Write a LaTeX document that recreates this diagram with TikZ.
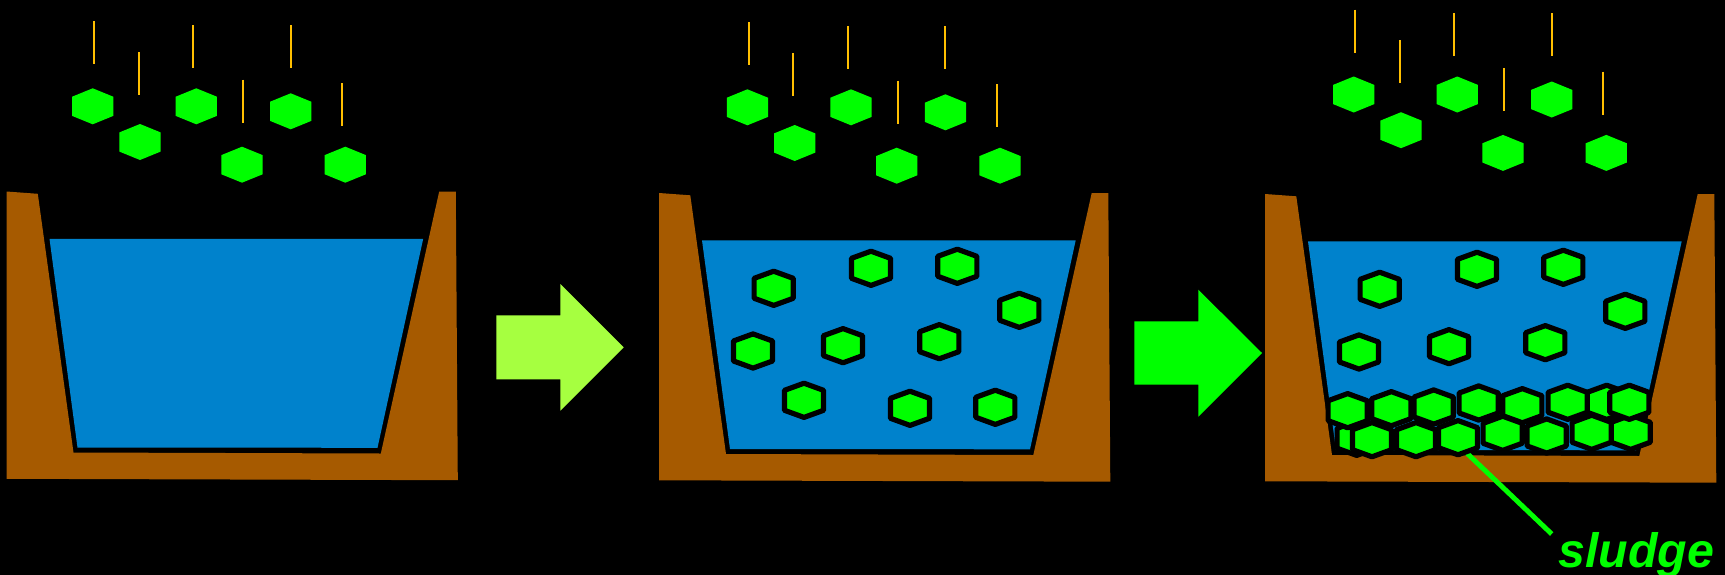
\documentclass[tikz,border=0pt]{standalone}
\usepackage{fontspec}
\setmainfont{Liberation Sans}
\definecolor{soil}{HTML}{A65A00}
\definecolor{water}{HTML}{0082CC}
\definecolor{floc}{HTML}{00FF00}
\definecolor{rodgold}{HTML}{FFBF00}
\definecolor{limearrow}{HTML}{A6FF40}
\tikzset{
  soilfill/.style={fill=soil},
  waterfill/.style={fill=water},
  dryhex/.style={fill=floc},
  wethex/.style={fill=floc,draw=black,line width=2.95pt,line join=round,scale=0.95},
  rod/.style={draw=rodgold,line width=1.2pt},
  bigarrow/.style={fill=#1},
  leader/.style={draw=floc,line width=2.8pt},
  sludgelabel/.style={text=floc,inner sep=0pt,font=\fontsize{27.5}{30}\selectfont\bfseries\itshape}
}
% One hexagonal floc, pointy side up: style, half side length, centre x, centre y
\newcommand{\flochex}[4]{\path[shift={(#3,#4)},#1] (0,-18) -- (20.6,-#2) -- (20.6,#2) -- (0,18) -- (-20.6,#2) -- (-20.6,-#2) -- cycle;}
% Basin cross-section: earth with its cut, then the water surface
\newcommand{\basin}[2]{%
  \begin{scope}[shift={(#1,#2)}]
    \path[soilfill] (659,193) -- (690.3,195.3) -- (726,454) -- (1033.3,455) -- (1091.7,193) -- (1108.3,193) -- (1110.3,481.7) -- (659,480.3) -- cycle;
    \path[waterfill] (702,240.3) -- (1075.7,240.3) -- (1030,449.3) -- (730,449) -- cycle;
  \end{scope}}
% Dosing rods with the flocs falling beneath them
\newcommand{\fallinggroup}[2]{%
  \begin{scope}[shift={(#1,#2)}]
    \foreach \rx/\ra/\rb in {94/21.3/64.3,138.7/52/95,193/25/68,243/79.7/122.7,290.7/25/68,342/83.3/126.3}
      {\draw[rod] (\rx,\ra) -- (\rx,\rb);}
    \foreach \hx/\hy in {92.7/106.3,140/142,196.3/106.3,242/164.7,290.7/111.3,345.3/164.7}
      {\flochex{dryhex}{9.6}{\hx}{\hy}}
  \end{scope}}
\begin{document}
\begin{tikzpicture}[x=0.02cm,y=-0.02cm]
  \useasboundingbox (0,0) rectangle (1725,575);
  \fill[black] (0,0) rectangle (1725,575);

  % Basins
  \basin{-652.5}{-1.5}
  \basin{0}{0}
  \basin{606}{1}

  % Dosing above each basin
  \fallinggroup{0}{0}
  \fallinggroup{654.7}{1}
  \fallinggroup{1261}{-11.8}

  % Suspended flocs, middle basin
  \foreach \hx/\hy in {773.7/288.3,871/268.3,957.3/266.3,1019.3/310.3,753/351,843/345.7,939.3/341.7,804/400.3,910/408.3,995.3/407.3}
    {\flochex{wethex}{10.5}{\hx}{\hy}}

  % Suspended flocs, right basin
  \foreach \hx/\hy in {1379.7/289.3,1477/269.3,1563.3/267.3,1625.3/311.3,1359/352,1449/346.7,1545.3/342.7}
    {\flochex{wethex}{10.5}{\hx}{\hy}}

  % Leader from the settled layer to its label
  \coordinate (leadstart) at (1466.7,453);
  \coordinate (leadend) at (1551.7,534);
  \draw[leader] (leadstart) -- (leadend);

  % Settled sludge layer, back to front
  \foreach \hx/\hy in {1356.7/438.3,1606.7/402.3,1630.7/432.3,1347.7/410.7,1391.3/408.7,1433.7/407,1478.7/403,1522.3/405.7,1567.7/402.3,1629.3/402.3,1372/439.7,1416/439.7,1458/437.7,1502.7/433.3,1546.7/436,1591.7/432.3}
    {\flochex{wethex}{10.5}{\hx}{\hy}}

  % Process arrows
  \path[bigarrow=limearrow] (496.3,315.3) -- (560.3,315.3) -- (560.3,284) -- (623.7,347.3) -- (560.3,410.7) -- (560.3,379.3) -- (496.3,379.3) -- cycle;
  \path[bigarrow=floc] (1134.3,321.3) -- (1198.3,321.3) -- (1198.3,289.7) -- (1262,353) -- (1198.3,416.7) -- (1198.3,384.7) -- (1134.3,384.7) -- cycle;

  \node[sludgelabel,anchor=base west] (sludge) at (1558,567.2) {sludge};
\end{tikzpicture}
\end{document}
